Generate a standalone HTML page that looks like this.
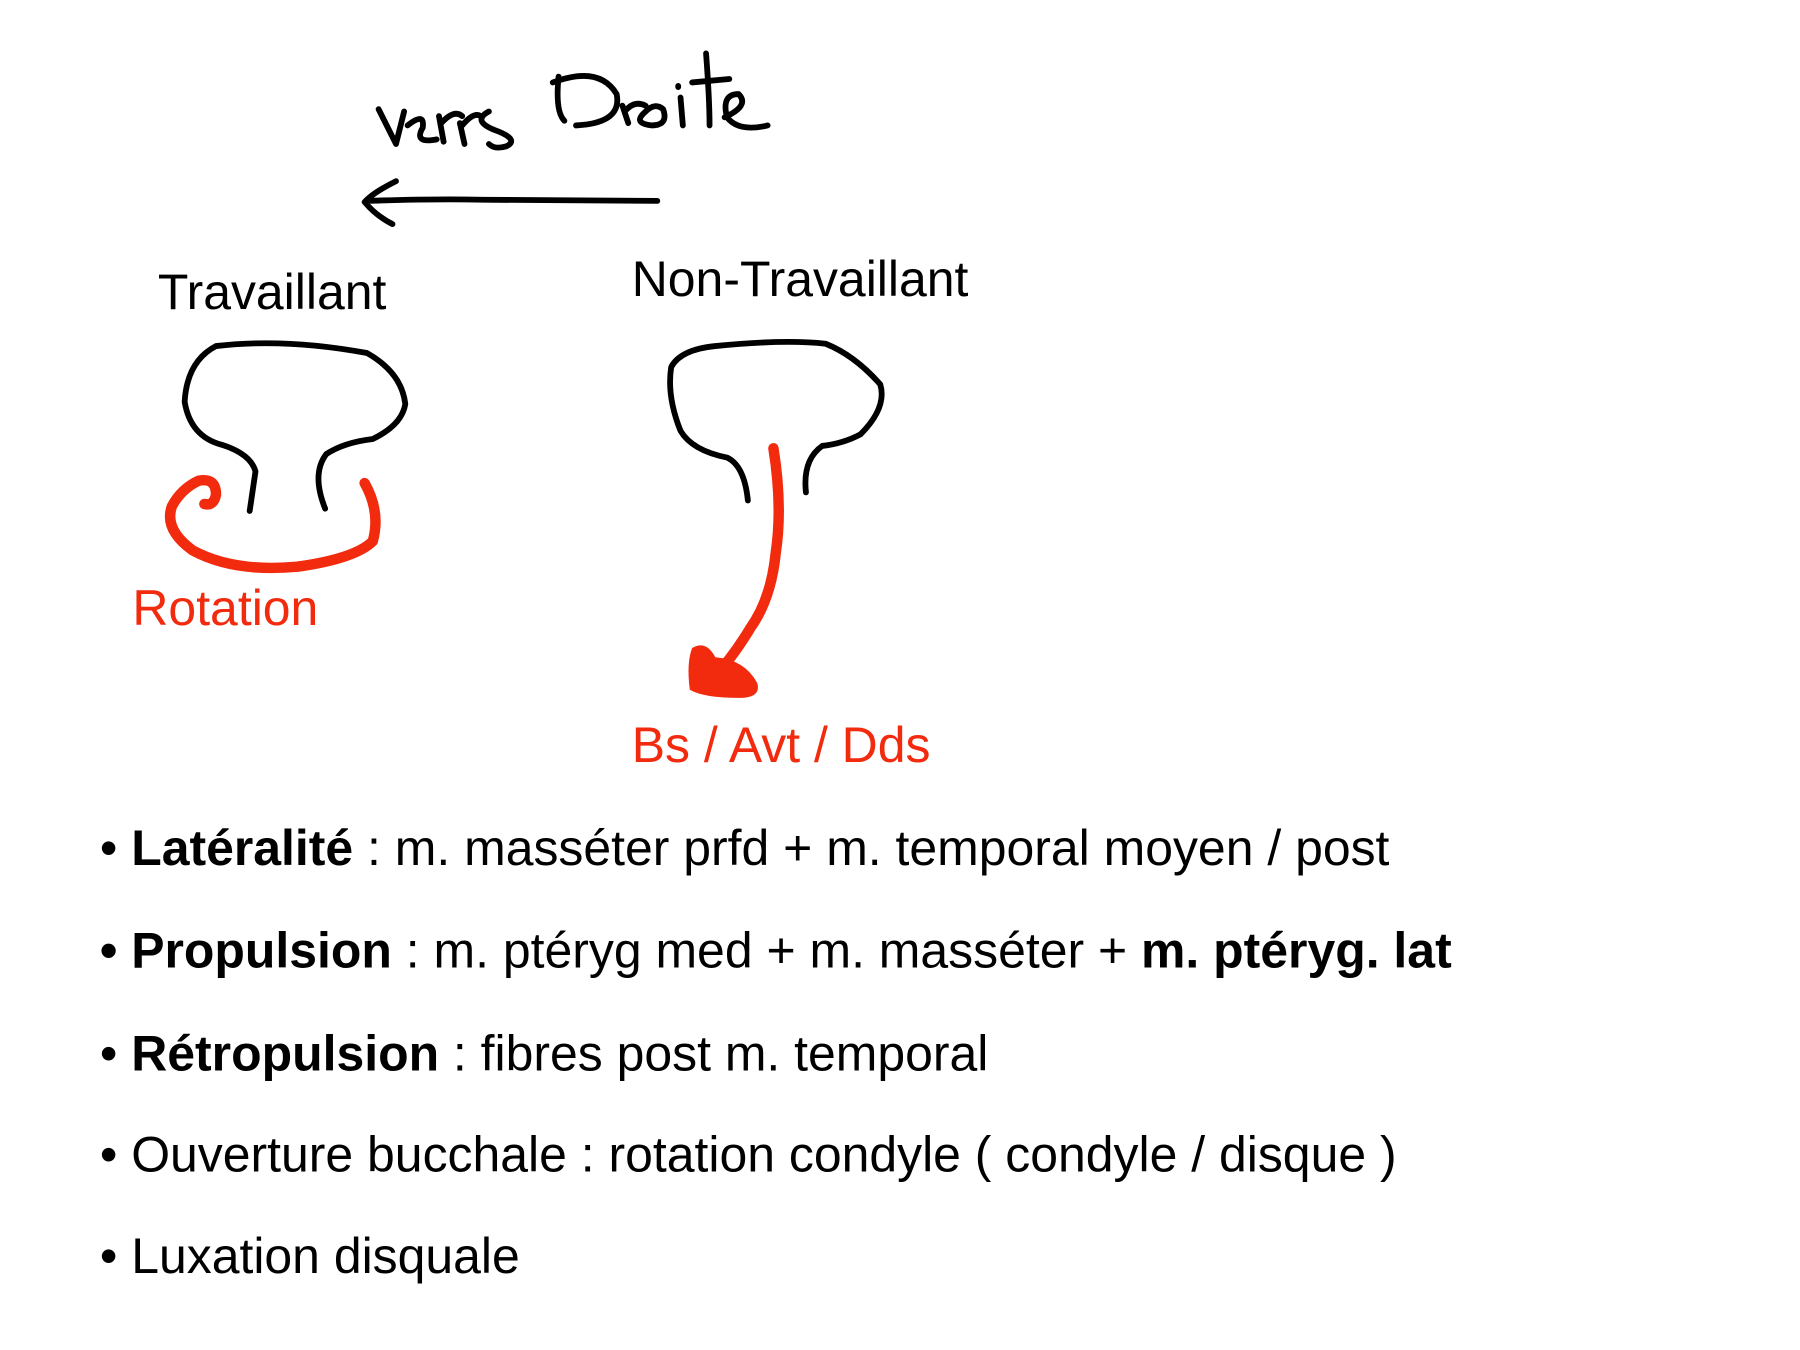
<!DOCTYPE html>
<html><head><meta charset="utf-8"><style>
html,body{margin:0;padding:0;background:#fff;}
svg{display:block;}
text{font-family:"Liberation Sans",Arial,sans-serif;}
</style></head><body>
<svg width="1800" height="1350" viewBox="0 0 1550 1162.5" preserveAspectRatio="none">
<rect width="1550" height="1163" fill="#fff"/>
<g transform="translate(-4,-4)">
<g fill="none" stroke="#000" stroke-width="5" stroke-linecap="round" stroke-linejoin="round">
<path d="M330,98 L345,128 L352,100 M355,112 Q370,100 368,114 Q360,128 380,124 M382,104 L386,126 M384,110 Q395,98 402,104 M400,110 L404,128 M402,112 Q412,100 418,104 M425,100 Q410,108 430,116 Q452,124 440,130 Q430,133 425,128"/>
<path d="M485,70 Q482,100 490,108 M480,75 Q520,60 535,85 Q540,110 500,112 M540,95 L545,110 M542,100 Q550,90 560,95 M560,100 Q548,110 565,112 Q580,112 575,98 Q568,92 560,100 M590,88 L592,112 M588,78 l0,1 M612,50 Q615,90 615,112 M600,75 L632,72 M628,105 Q650,95 640,85 Q625,85 630,105 Q640,118 665,112"/>
<path d="M570,177 L420,176 Q380,175 320,177 M345,160 Q325,170 318,178 Q328,190 342,197"/>
<path d="M219,444 L224,410 Q220,395 195,387 Q168,380 163,350 Q165,315 190,302 Q250,295 320,308 Q350,325 353,352 Q350,370 325,382 Q300,385 285,395 Q272,412 284,442"/>
<path d="M648,435 Q645,405 630,398 Q600,392 590,375 Q578,345 582,320 Q590,305 620,302 Q680,296 715,300 Q740,310 762,335 Q768,355 745,378 Q730,386 712,388 Q695,400 698,428"/>
</g>
<g fill="none" stroke="#f22a0e" stroke-width="9" stroke-linecap="round" stroke-linejoin="round">
<path d="M318,420 Q332,445 325,470 Q310,485 260,492 Q205,497 170,478 Q145,460 152,440 Q160,425 175,418 Q190,415 190,430 Q188,440 180,438"/>
<path d="M670,390 Q678,440 672,480 Q668,520 650,545 Q635,570 618,588"/>
</g>
<path d="M600,562 Q612,555 620,570 Q645,572 656,592 Q660,605 640,605 Q610,605 598,598 Q595,575 600,562 Z" fill="#f22a0e"/>
</g>
<g font-size="43" fill="#000">
<text x="136" y="266">Travaillant</text>
<text x="544" y="255">Non-Travaillant</text>
<text x="114" y="538" fill="#f22a0e">Rotation</text>
<text x="544" y="656" fill="#f22a0e">Bs / Avt / Dds</text>
<text x="86" y="745">• <tspan font-weight="bold">Latéralité</tspan> : m. masséter prfd + m. temporal moyen / post</text>
<text x="86" y="833"><tspan font-weight="bold">• Propulsion</tspan> : m. ptéryg med + m. masséter + <tspan font-weight="bold">m. ptéryg. lat</tspan></text>
<text x="86" y="922">• <tspan font-weight="bold">Rétropulsion</tspan> : fibres post m. temporal</text>
<text x="86" y="1009">• Ouverture bucchale : rotation condyle ( condyle / disque )</text>
<text x="86" y="1096">• Luxation disquale</text>
</g>
</svg>
</body></html>
